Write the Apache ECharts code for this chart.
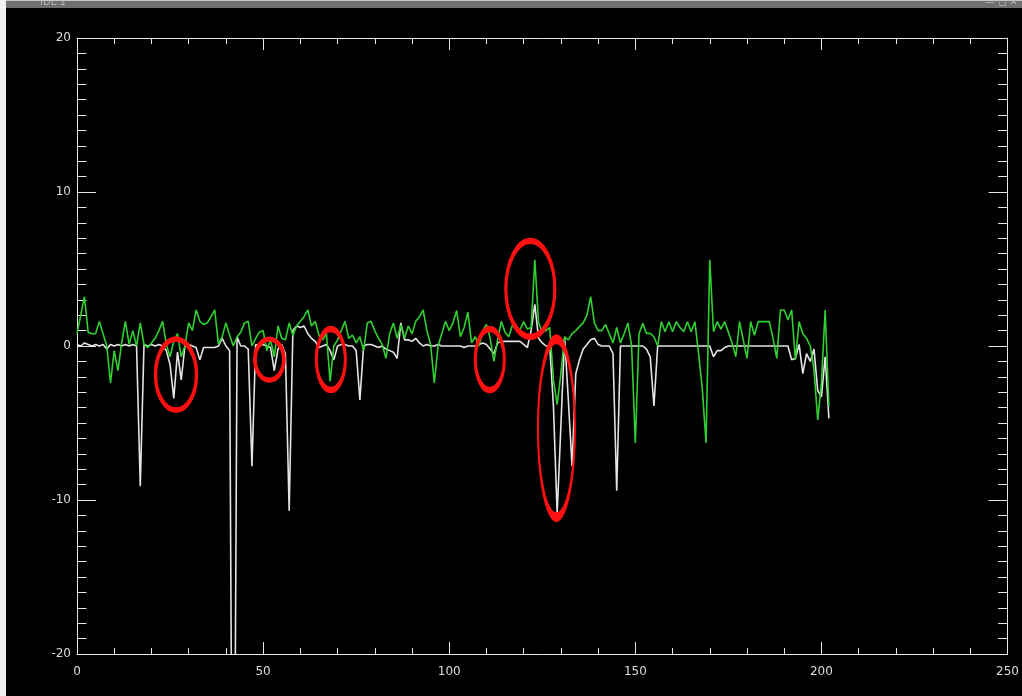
<!DOCTYPE html>
<html>
<head>
<meta charset="utf-8">
<script src="https://cdn.jsdelivr.net/npm/echarts@6/dist/echarts.min.js"></script>
<style>
html,body{margin:0;padding:0;background:#000;}
#chart{width:1022px;height:696px;}
</style>
</head>
<body>
<div id="chart"></div>
<script>
// x tick labels
var xTicks = [0, 50, 100, 150, 200, 250];
var yTicks = [-20, -10, 0, 10, 20];

// white trace (x = 0 .. 202, step 1)
var whiteSeries = [
 0.1, 0.0, 0.2, 0.1, 0.0, 0.1, 0.0, 0.1, -0.2, 0.1,
 0.0, 0.1, 0.0, 0.1, 0.0, 0.1, 0.0, -9.1, 0.1, 0.0,
 0.1, 0.0, 0.1, 0.0, -0.3, -1.2, -3.4, -0.4, -2.2, 0.0,
 0.1, 0.0, -0.1, -0.9, -0.1, -0.1, -0.1, -0.1, 0.0, 0.5,
 0.0, -0.3, -45, 0.6, 0.0, 0.0, -0.2, -7.8, 0.1, 0.0,
 0.1, 0.0, -0.1, -1.6, -0.2, 0.1, -0.5, -10.7, 1.0, 1.3,
 1.2, 1.3, 0.8, 0.5, 0.3, -0.1, 0.0, 0.1, -0.3, -0.9,
 0.0, 0.1, 0.1, 0.0, 0.0, -0.3, -3.5, 0.0, 0.1, 0.1,
 0.0, -0.1, 0.0, -0.2, -0.3, -0.4, -0.8, 1.5, 0.4, 0.4,
 0.3, 0.5, 0.2, 0.0, 0.1, 0.0, 0.0, 0.1, 0.0, 0.0,
 0.0, 0.0, 0.0, 0.0, -0.1, 0.0, 0.0, 0.0, 0.1, 0.2,
 0.1, -0.2, -0.5, 0.2, 0.3, 0.3, 0.3, 0.3, 0.3, 0.3,
 0.1, -0.1, 1.0, 2.7, 0.5, 0.2, 0.0, 0.0, -3.9, -10.9,
 -5.2, 0.6, -3.5, -7.8, -1.8, -0.9, -0.2, 0.1, 0.4, 0.5,
 0.1, 0.0, 0.0, 0.0, -0.5, -9.4, 0.0, 0.0, 0.0, 0.0,
 0.0, 0.0, 0.0, -0.2, -0.7, -3.9, 0.0, 0.0, 0.0, 0.0,
 0.0, 0.0, 0.0, 0.0, 0.0, 0.0, 0.0, 0.0, 0.0, 0.0,
 0.0, -0.7, -0.3, -0.3, -0.1, 0.0, 0.0, 0.0, 0.0, 0.0,
 0.0, 0.0, 0.0, 0.0, 0.0, 0.0, 0.0, 0.0, 0.0, 0.0,
 0.0, 0.0, -0.9, -0.8, 0.1, -1.8, -0.5, -1.0, -0.2, -2.9,
 -3.3, -0.7, -4.7
];

// green trace (x = 0 .. 202, step 1)
var greenSeries = [
 0.8, 2.0, 3.2, 0.9, 0.8, 0.8, 1.6, 0.8, 0.0, -2.4,
 -0.3, -1.6, 0.2, 1.6, 0.1, 1.0, 0.0, 1.5, 0.1, -0.1,
 0.2, 0.5, 1.0, 1.6, 0.1, -0.7, 0.3, 0.8, -0.7, 0.0,
 1.5, 1.0, 2.35, 1.6, 1.4, 1.5, 1.9, 2.35, 0.1, 0.6,
 1.5, 0.7, 0.0, 0.6, 0.9, 1.5, 1.6, 0.0, 0.5, 0.9,
 1.0, -0.3, 0.4, -0.7, 1.3, 0.5, 0.4, 1.5, 0.7, 1.3,
 1.6, 1.9, 2.35, 1.3, 1.6, 0.7, 0.4, 0.8, -2.3, 0.0,
 0.4, 1.0, 1.6, 0.5, 0.7, 0.2, 0.6, -0.3, 1.5, 1.6,
 1.0, 0.5, 0.1, -0.8, 0.8, 1.5, 0.5, 1.36, 0.5, 1.3,
 0.8, 1.6, 1.9, 2.35, 1.0, 0.1, -2.4, 0.0, 0.8, 1.6,
 1.0, 1.5, 2.3, 0.6, 1.2, 2.2, 0.2, 0.6, 0.0, 1.0,
 1.4, 0.5, -1.0, 0.4, 1.6, 0.9, 0.6, 1.36, 1.2, 1.04,
 1.58, 1.1, 1.2, 5.6, 1.5, 0.9, 1.0, 1.2, -2.2, -3.8,
 -1.8, 0.6, 0.4, 0.8, 1.0, 1.26, 1.5, 2.0, 3.2, 1.5,
 1.0, 1.0, 1.4, 0.8, 0.2, 1.2, 0.2, 0.8, 1.5, 0.0,
 -6.3, 0.8, 1.47, 0.82, 0.82, 0.6, 0.0, 1.58, 0.93, 1.58,
 0.93, 1.58, 1.2, 0.93, 1.58, 0.93, 1.58, -0.5, -2.8, -6.3,
 5.6, 0.93, 1.58, 1.1, 1.58, 0.9, 0.2, -0.7, 1.58, 0.4,
 -0.8, 1.58, 0.7, 1.58, 1.58, 1.58, 1.58, 0.5, -0.8, 2.34,
 2.34, 1.69, 2.34, -0.9, 1.58, 0.8, 0.5, 0.0, -1.5, -4.8,
 -2.4, 2.34, -3.94
];

// red annotation ellipses: centres in data units
var ellipseCenters = [[26.6, -1.86], [51.7, -0.88], [68.2, -0.88], [110.9, -0.88], [121.8, 3.71], [128.8, -5.34]];
var ellipseSizes = [[41, 71], [29, 41], [29, 61], [29, 61], [49, 96], [37, 178]];

var chart = echarts.init(document.getElementById('chart'), null, {renderer: 'canvas'});

var axisColor = '#e6e6e6';
var labelFont = {color: '#dcdcdc', fontSize: 12, fontFamily: 'DejaVu Sans'};

function xAxisDef(pos, showLabel) {
  return {
    type: 'value', position: pos, min: xTicks[0], max: xTicks[xTicks.length - 1], interval: 50,
    axisLine: {show: true, onZero: false, lineStyle: {color: axisColor, width: 1}},
    axisTick: {show: true, inside: true, length: 12, lineStyle: {color: axisColor}},
    minorTick: {show: true, splitNumber: 5, length: 6, lineStyle: {color: axisColor}},
    splitLine: {show: false},
    axisLabel: showLabel ? Object.assign({show: true, margin: 12}, labelFont) : {show: false}
  };
}
function yAxisDef(pos, showLabel) {
  return {
    type: 'value', position: pos, min: yTicks[0], max: yTicks[yTicks.length - 1], interval: 10,
    axisLine: {show: true, onZero: false, lineStyle: {color: axisColor, width: 1}},
    axisTick: {show: true, inside: true, length: 19, lineStyle: {color: axisColor}},
    minorTick: {show: true, splitNumber: 10, length: 9.5, lineStyle: {color: axisColor}},
    splitLine: {show: false},
    axisLabel: showLabel ? Object.assign({show: true, margin: 6}, labelFont) : {show: false}
  };
}

chart.setOption({
  animation: false,
  backgroundColor: '#000000',
  grid: {left: 77, right: 12, top: 38, bottom: 42, containLabel: false},
  xAxis: [xAxisDef('bottom', true), xAxisDef('top', false)],
  yAxis: [yAxisDef('left', true), yAxisDef('right', false)],
  graphic: [
    {type: 'rect', left: 0, top: 0, shape: {width: 1022, height: 8}, style: {fill: '#6f6f6f'}, silent: true},
    {type: 'rect', left: 0, top: 0, shape: {width: 1022, height: 1}, style: {fill: '#c8c8c8'}, silent: true},
    {type: 'rect', left: 0, top: 0, shape: {width: 6, height: 696}, style: {fill: '#f2f2f2'}, silent: true},
    {type: 'text', left: 40, top: -3, style: {text: 'IDL 1', fill: '#b8b8b8', fontSize: 10, fontFamily: 'DejaVu Sans'}, silent: true},
    {type: 'text', right: 4, top: -3, style: {text: '— ◻ ✕', fill: '#b8b8b8', fontSize: 10, fontFamily: 'DejaVu Sans'}, silent: true}
  ],
  series: [
    {
      type: 'line', xAxisIndex: 0, yAxisIndex: 0,
      data: whiteSeries.map(function (v, i) { return [i, v]; }),
      showSymbol: false, symbol: 'none', clip: true,
      lineStyle: {color: '#e4e4e4', width: 1.6}, z: 2, silent: true
    },
    {
      type: 'line', xAxisIndex: 0, yAxisIndex: 0,
      data: greenSeries.map(function (v, i) { return [i, v]; }),
      showSymbol: false, symbol: 'none', clip: true,
      lineStyle: {color: '#30d030', width: 1.6}, z: 3, silent: true
    },
    {
      type: 'scatter', xAxisIndex: 0, yAxisIndex: 0,
      data: ellipseCenters.map(function (c, i) { return {value: c, symbolSize: ellipseSizes[i]}; }),
      symbol: 'circle',
      itemStyle: {color: 'rgba(0,0,0,0)', borderColor: '#ff1010', borderWidth: 4.5, opacity: 1},
      z: 5, silent: true
    }
  ]
});
</script>
</body>
</html>
